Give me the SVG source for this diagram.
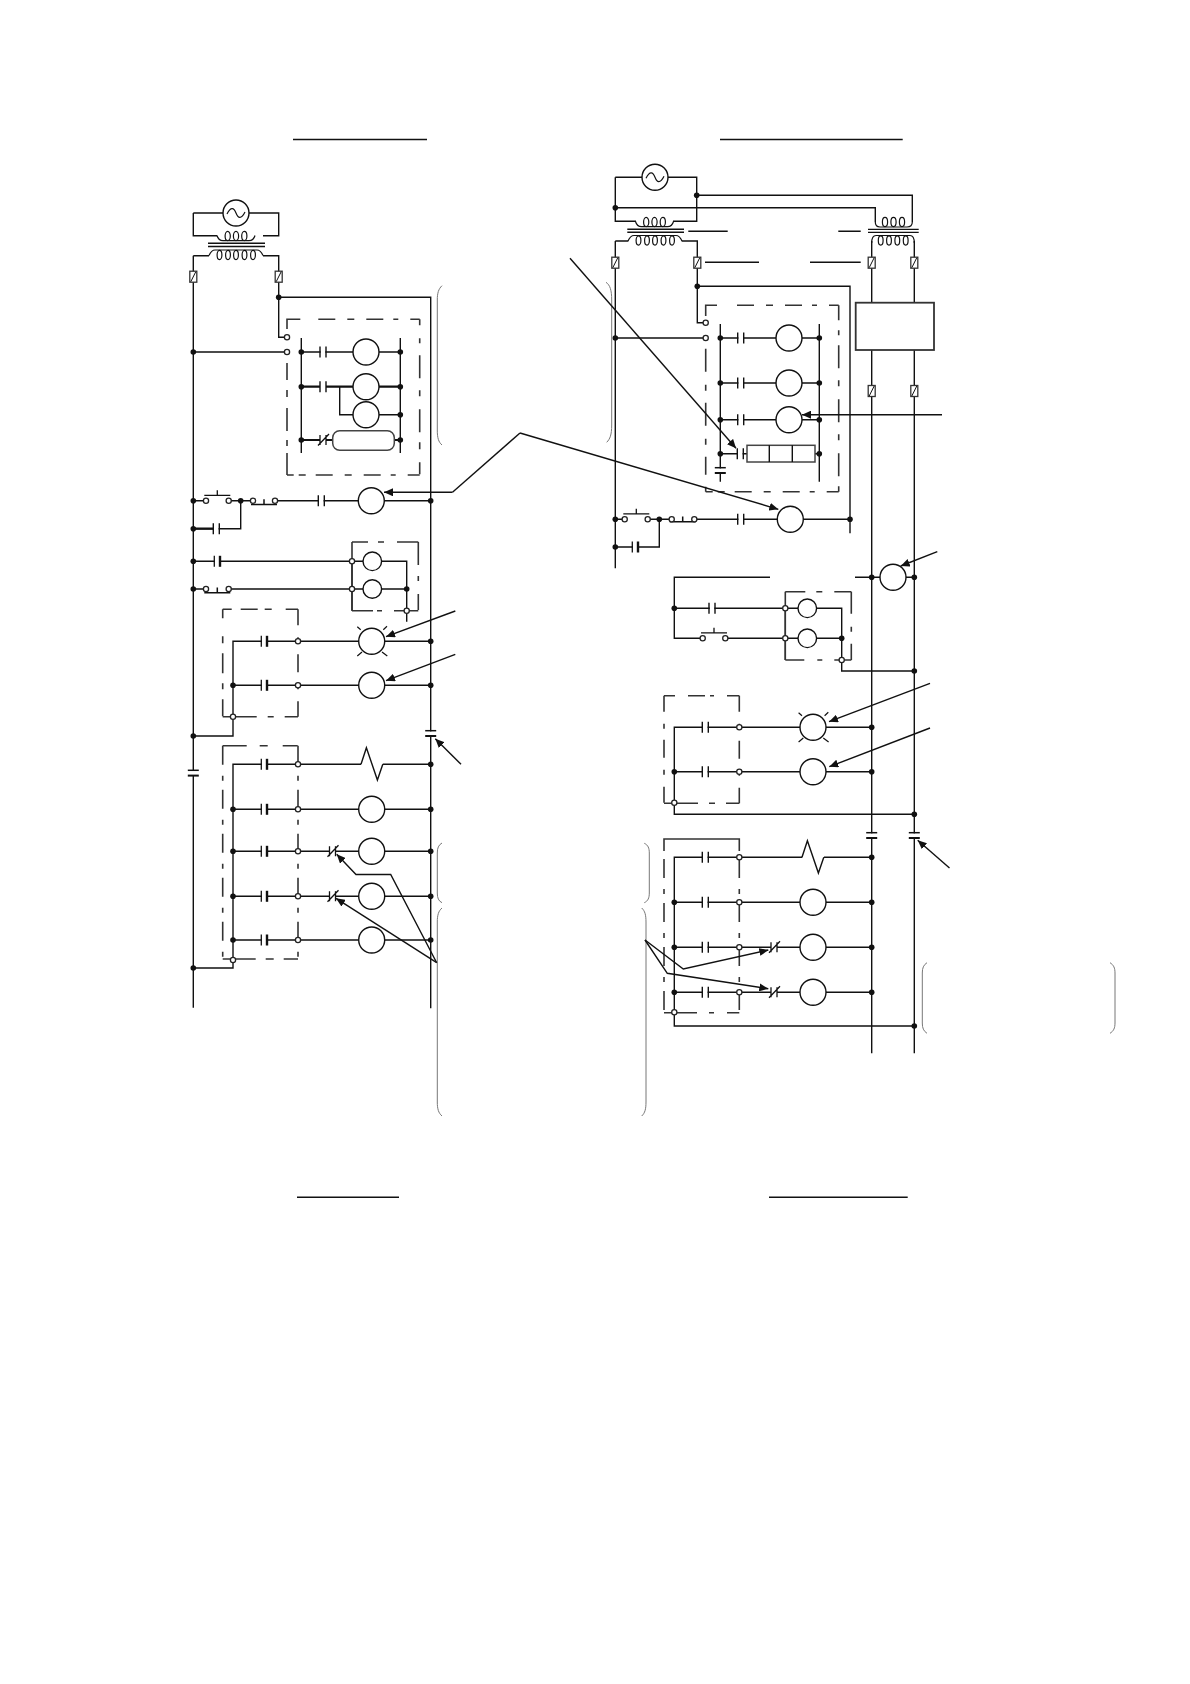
<svg xmlns="http://www.w3.org/2000/svg" width="1190" height="1684" viewBox="0 0 1190 1684">
<style>
.w,.w *{fill:none;stroke:#111;stroke-width:1.4}
.t{fill:none;stroke:#111;stroke-width:2.2}
.o{fill:#fff;stroke:#222;stroke-width:1.3}
.j{fill:#111;stroke:none}
.r{fill:#fff;stroke:#444;stroke-width:1.5}
.a{fill:none;stroke:#111;stroke-width:1.4;marker-end:url(#ah)}
.bx{fill:none;stroke:#333;stroke-width:1.6}
.bs{fill:none;stroke:#333;stroke-width:1.6;stroke-dasharray:19 11 5 9}
.br{fill:none;stroke:#777;stroke-width:1}
.c{fill:#fff;stroke:#111;stroke-width:1.4}
</style>
<defs>
<marker id="ah" markerUnits="userSpaceOnUse" markerWidth="10" markerHeight="8" refX="9" refY="4" orient="auto"><path d="M0,0 L9,4 L0,8 Z" fill="#111"/></marker>
<g id="ct"><rect x="0.7" y="-1.5" width="4.6" height="3" fill="#fff" stroke="none"/><path d="M0,-5.5V5.5M6,-5.5V5.5" fill="none" stroke="#111" stroke-width="1.4"/></g>
<g id="ct2"><rect x="0.7" y="-1.5" width="4.6" height="3" fill="#fff" stroke="none"/><path d="M0,-5.5V5.5" fill="none" stroke="#111" stroke-width="1.3"/><path d="M5.7,-5.5V5.5" fill="none" stroke="#111" stroke-width="2.4"/></g>
<g id="cv"><rect x="-6" y="0.7" width="12" height="4" fill="#fff" stroke="none"/><path d="M-5.5,0H5.5" fill="none" stroke="#111" stroke-width="1.5"/><path d="M-5.5,5.3H5.5" fill="none" stroke="#111" stroke-width="2"/></g>
<g id="nc"><rect x="-3" y="-2" width="6" height="4" fill="#fff" stroke="none"/><path d="M-3,-5V5M3,-5V5M-5,5.5L6,-6" fill="none" stroke="#111" stroke-width="1.3"/></g>
<g id="fu"><rect x="-3.5" y="-5.5" width="7" height="11" fill="#fff" stroke="#333" stroke-width="1.3"/><path d="M-2.5,5L2.5,-5" fill="none" stroke="#111"/></g>
<g id="cu" fill="none" stroke="#111" stroke-width="1.2"><ellipse cx="-8.3" cy="0" rx="2.6" ry="4.6"/><ellipse cx="0" cy="0" rx="2.6" ry="4.6"/><ellipse cx="8.3" cy="0" rx="2.6" ry="4.6"/><path d="M-19,-0.5C-18,3 -16,4.6 -13,4.6H13C16,4.6 18,3 19,-0.5"/></g>
<g id="cl" fill="none" stroke="#111" stroke-width="1.2"><ellipse cx="-16.5" cy="0" rx="2.4" ry="4.6"/><ellipse cx="-8" cy="0" rx="2.4" ry="4.6"/><ellipse cx="0" cy="0" rx="2.4" ry="4.6"/><ellipse cx="8.5" cy="0" rx="2.4" ry="4.6"/><ellipse cx="17" cy="0" rx="2.4" ry="4.6"/><path d="M-27,0.5C-25,-4 -23,-5 -21,-5H21C23,-5 25,-4 27,0.5"/></g>
<g id="la" fill="none" stroke="#111" stroke-width="1.2"><circle r="13" fill="#fff" stroke="#111" stroke-width="1.4"/><path d="M-14.4,-14.6L-11,-11.6M11.6,-11.6L15.3,-15M-14.4,14.7L-9.7,10.7M10.3,10.7L15.6,14.7"/></g>
<g id="zz"><path d="M-11,0L-5.6,-16.6L5.4,15.7L10.8,0" fill="none" stroke="#111" stroke-width="1.4"/></g>
<g id="sr"><circle r="13" class="c"/><path d="M-9,1C-5,-7 -2,-5 0,0C2,5 5,7 9,-1" fill="none" stroke="#111" stroke-width="1.2"/></g>
<path id="pbT" d="M-13,-5.4H13M0,-5.4V-10.5" fill="none" stroke="#111" stroke-width="1.3"/>
<path id="pbB" d="M-13,3.8H13M0,3.8V-1.5" fill="none" stroke="#111" stroke-width="1.5"/>
</defs>
<rect width="1190" height="1684" fill="#fff"/>

<g id="title-rules" class="w">
<path d="M293,139.5H427M720,139.5H902.7M297,1197.3H399M769,1197.3H907.7"/>
<path d="M688.3,231.3H727.7M838.3,231.3H860.7M705,262.3H759M810,262.3H860.7"/>
</g>

<g id="connectors-left" class="w">
<path d="M193.3,213H278.7V235.7H263M193.3,213V235.7H217M193.3,255.7V1007.7M209,255.7H193.3M263,255.7H278.7V337.3H287M278.7,297.3H430.7V1008.3"/>
<path d="M193.3,352H287M301.3,338V453M400.3,338V453M301.3,352H400.3M339.7,386.7V414.7H400.3"/>
<path d="M193.3,500.7H206M228.7,500.7H253M275,500.7H430.7M193.3,528.7H240.7V500.7"/>
<path d="M193.3,561.3H352M193.3,589H206M228.7,589H352M352,561.3V610.7M352,561.3H406.7V621.7M352,589H406.7"/>
<path d="M193.3,736H233V641.3H430.7M233,685.3H430.7"/>
<path d="M193.3,968H233V764.3H361M382.8,764.3H430.7M233,809.3H430.7M233,851.3H430.7M233,896.3H430.7M233,940H430.7"/>
</g>
<g id="connectors-left-heavy" class="t">
<path class="t" d="M301.3,386.7H320M326,386.7H353M379,386.7H400.3M301.3,440H320M326,440H333M394,440H400.3M193.3,528.7H213"/>
</g>

<g id="connectors-right" class="w">
<path d="M615.3,177.3H696.7V221.3H673M615.3,177.3V221.3H636M615.3,241V568.3M628.3,241H615.3M681.7,241H697.3V322.7H705.7M697.3,286.3H850V533.3"/>
<path d="M696.7,195.3H912.3V222M615.3,207.7H875.3V222"/>
<path d="M871.7,241V1053.3M914.3,241V1053.3"/>
<path d="M615.3,338H705.7M720.3,324V481.7M819.3,324V481.7M720.3,338H819.3M720.3,383H819.3M720.3,419.7H819.3M720.3,453.7H819.3"/>
<path d="M615.3,519.3H624.7M647.7,519.3H671.7M694.3,519.3H850M615.3,547H659.3V519.3"/>
<path d="M770,577.3H674.3V638.3H702.7M725.3,638.3H785.3M674.3,608.3H785.3M855,577.3H914.3M785.3,608.3V660M785.3,608.3H841.7V671H914.3M785.3,638.3H841.7"/>
<path d="M914.3,814.3H674.3V727.3H871.7M674.3,771.7H871.7"/>
<path d="M914.3,1026H674.3V857.3H802.2M824,857.3H871.7M674.3,902.3H871.7M674.3,947.3H871.7M674.3,992.3H871.7"/>
</g>

<g id="left-source"><use href="#sr" x="236" y="213"/></g>
<g id="left-transformer"><use href="#cu" x="236" y="236"/><path class="w" d="M208,243.3H265M208,246.5H265" fill="none"/><use href="#cl" x="236" y="255"/></g>
<g id="left-fuses"><use href="#fu" x="193.3" y="276.7"/><use href="#fu" x="278.7" y="276.7"/></g>
<g id="left-box-a">
<path class="bx" d="M287,329V319.3H419.7" stroke-dasharray="23 18 17 12 7 12 17 10 5 12 12 99"/>
<path class="bx" d="M419.7,319.3V475" stroke-dasharray="6 13 5 12 23 12 6 13 23 10 7 13 12 99"/>
<path class="bx" d="M419.7,475H287" stroke-dasharray="12 12 5 10 17 12 7 12 17 10 7 5 10 99"/>
<path class="bx" d="M287,475V358" stroke-dasharray="22 7 6 9 23 11 7 10 17 99"/>
</g>
<g id="left-box-b">
<path class="bx" d="M352,542H418.3" stroke-dasharray="16 10 6 13 23 99"/>
<path class="bx" d="M418.3,542V610.7" stroke-dasharray="23 11 5 13 16 99"/>
<path class="bx" d="M352,610.7H418.3" stroke-dasharray="21 4 5 12 25 99"/>
<path class="bx" d="M352,542V610.7"/>
</g>
<g id="left-box-c">
<path class="bx" d="M222.7,609.3H298" stroke-dasharray="9 9 17 7 7 14 13 99"/>
<path class="bx" d="M222.7,609.3V716.7" stroke-dasharray="9 18 7 10 20 10 6 10 17 99"/>
<path class="bx" d="M222.7,716.7H298" stroke-dasharray="34 11 6 11 14 99"/>
<path class="bx" d="M298,609.3V716.7" stroke-dasharray="16 12 5 12 18 12 5 12 16 99"/>
</g>
<g id="left-box-d">
<path class="bx" d="M222.7,745.7H298" stroke-dasharray="24 13 8 15 15 99"/>
<path class="bs" d="M222.7,745.7V959"/>
<path class="bx" d="M222.7,959H298" stroke-dasharray="33 10 8 10 15 99"/>
<path class="bs" d="M298,745.7V959"/>
</g>

<g id="left-row-1"><use href="#ct" x="320" y="352"/><circle class="c" cx="366" cy="352" r="13"/></g>
<g id="left-row-2"><use href="#ct" x="320" y="386.7"/><circle class="c" cx="366" cy="386.7" r="13"/></g>
<g id="left-row-3"><circle class="c" cx="366" cy="414.7" r="13"/></g>
<g id="left-row-4"><use href="#nc" x="323" y="440"/><rect class="r" x="332.7" y="430.7" width="61.6" height="19.6" rx="7"/></g>
<g id="left-row-5"><use href="#pbT" x="217.3" y="500.7"/><use href="#pbB" x="264" y="500.7"/><use href="#ct" x="318.3" y="500.7"/><circle class="c" cx="371.3" cy="500.7" r="13"/></g>
<g id="left-row-6"><use href="#ct" x="213.3" y="528.7"/></g>
<g id="left-row-7"><use href="#ct2" x="214.3" y="561.3"/><circle class="c" cx="372.3" cy="561.3" r="9.3"/></g>
<g id="left-row-8"><use href="#pbB" x="217.3" y="589"/><circle class="c" cx="372.3" cy="589" r="9.3"/></g>
<g id="left-lamp-1"><use href="#ct2" x="261.3" y="641.3"/><use href="#la" x="371.7" y="641.3"/></g>
<g id="left-lamp-2"><use href="#ct2" x="261.3" y="685.3"/><circle class="c" cx="371.7" cy="685.3" r="13"/></g>
<g id="left-contact-h"><use href="#cv" x="430.7" y="730.7"/></g>
<g id="left-contact-v"><use href="#cv" x="193.3" y="770.3"/></g>
<g id="left-row-9"><use href="#ct2" x="261.3" y="764.3"/><use href="#zz" x="372" y="764.3"/></g>
<g id="left-row-10"><use href="#ct2" x="261.3" y="809.3"/><circle class="c" cx="371.7" cy="809.3" r="13"/></g>
<g id="left-row-11"><use href="#ct2" x="261.3" y="851.3"/><use href="#nc" x="332.5" y="851.3"/><circle class="c" cx="371.7" cy="851.3" r="13"/></g>
<g id="left-row-12"><use href="#ct2" x="261.3" y="896.3"/><use href="#nc" x="332.5" y="896.3"/><circle class="c" cx="371.7" cy="896.3" r="13"/></g>
<g id="left-row-13"><use href="#ct2" x="261.3" y="940"/><circle class="c" cx="371.7" cy="940" r="13"/></g>

<g id="right-source"><use href="#sr" x="655" y="177.3"/></g>
<g id="right-transformer-1"><use href="#cu" x="654.5" y="222"/><path class="w" d="M627.3,229.3H684M627.3,232.3H684" fill="none"/><use href="#cl" x="655" y="240.5"/></g>
<g id="right-transformer-2" fill="none" stroke="#111" stroke-width="1.2"><path d="M875.3,222C875.3,226 878,227 880,227H907C910,227 912.3,226 912.3,222"/><ellipse cx="885" cy="222" rx="2.6" ry="4.6"/><ellipse cx="893.5" cy="222" rx="2.6" ry="4.6"/><ellipse cx="902" cy="222" rx="2.6" ry="4.6"/><path d="M868,229.3H918.7M868,232.3H918.7"/><rect x="868" y="234" width="52" height="7" fill="#fff" stroke="none"/><path d="M871.7,243C871.7,237 874,235.5 876,235.5H910C912.3,235.5 914.3,237 914.3,243"/><ellipse cx="880.7" cy="240.5" rx="2.4" ry="4.6"/><ellipse cx="889" cy="240.5" rx="2.4" ry="4.6"/><ellipse cx="897.3" cy="240.5" rx="2.4" ry="4.6"/><ellipse cx="905.7" cy="240.5" rx="2.4" ry="4.6"/></g>
<g id="right-fuses"><use href="#fu" x="615.3" y="262.7"/><use href="#fu" x="697.3" y="262.7"/><use href="#fu" x="871.7" y="262.7"/><use href="#fu" x="914.3" y="262.7"/><use href="#fu" x="871.7" y="391"/><use href="#fu" x="914.3" y="391"/></g>
<g id="right-block"><rect x="855.7" y="302.7" width="78.3" height="47.3" fill="#fff" stroke="#333" stroke-width="1.8"/></g>
<g id="right-box-a">
<path class="bx" d="M705.7,316V305.3H838.7" stroke-dasharray="22 20 17 12 7 12 17 10 5 12 12 99"/>
<path class="bx" d="M838.7,305.3V491.7" stroke-dasharray="15 10 5 10 23 12 6 13 23 12 6 13 23 10 16 99"/>
<path class="bx" d="M838.7,491.7H705.7" stroke-dasharray="12 12 5 10 17 12 7 12 17 10 7 5 10 99"/>
<path class="bx" d="M705.7,491.7V344" stroke-dasharray="5 12 18 12 6 13 23 12 6 13 23 99"/>
</g>
<g id="right-box-b">
<path class="bx" d="M785.3,591.7H851.3" stroke-dasharray="20 11 6 12 18 99"/>
<path class="bx" d="M851.3,591.7V660" stroke-dasharray="22 13 5 12 17 99"/>
<path class="bx" d="M785.3,660H851.3" stroke-dasharray="19 13 5 12 18 99"/>
<path class="bx" d="M785.3,591.7V660"/>
</g>
<g id="right-box-c">
<path class="bx" d="M664,695.7H739.3" stroke-dasharray="11 13 17 5 4 13 13 99"/>
<path class="bx" d="M664,695.7V803.3" stroke-dasharray="16 12 5 11 18 12 5 12 16 99"/>
<path class="bx" d="M664,803.3H739.3" stroke-dasharray="34 11 6 11 14 99"/>
<path class="bx" d="M739.3,695.7V803.3" stroke-dasharray="16 12 5 12 18 12 5 12 16 99"/>
</g>
<g id="right-box-d">
<path class="bx" d="M664,851V839H739.3V851"/>
<path class="bs" d="M664,859V1012.7"/>
<path class="bx" d="M664,1012.7H739.3" stroke-dasharray="33 12 5 13 13 99"/>
<path class="bs" d="M739.3,859V1012.7"/>
</g>

<g id="right-row-1"><use href="#ct" x="737.7" y="338"/><circle class="c" cx="789" cy="338" r="13"/></g>
<g id="right-row-2"><use href="#ct" x="737.7" y="383"/><circle class="c" cx="789" cy="383" r="13"/></g>
<g id="right-row-3"><use href="#ct" x="737.7" y="419.7"/><circle class="c" cx="789" cy="419.7" r="13"/></g>
<g id="right-row-4"><use href="#ct" x="737.3" y="453.7"/><rect class="r" x="747" y="445.3" width="68" height="16.7"/><path class="w" fill="none" d="M769.3,445.3V462M792.3,445.3V462"/></g>
<g id="right-contact-a" transform="translate(720.3,467.7)"><use href="#cv"/></g>
<g id="right-row-5"><use href="#pbT" x="636.3" y="519.3"/><use href="#pbB" x="682.7" y="518"/><use href="#ct" x="737.7" y="519.3"/><circle class="c" cx="790.3" cy="519.3" r="13"/></g>
<g id="right-row-6"><use href="#ct2" x="632.3" y="547"/></g>
<g id="right-coil-k"><circle class="c" cx="893" cy="577.3" r="13"/></g>
<g id="right-row-7"><use href="#ct" x="709" y="608.3"/><circle class="c" cx="807.3" cy="608.3" r="9.3"/></g>
<g id="right-row-8"><use href="#pbT" x="714" y="638.3"/><circle class="c" cx="807.3" cy="638.3" r="9.3"/></g>
<g id="right-lamp-1"><use href="#ct" x="702.3" y="727.3"/><use href="#la" x="813" y="727.3"/></g>
<g id="right-lamp-2"><use href="#ct" x="702.3" y="771.7"/><circle class="c" cx="813" cy="771.7" r="13"/></g>
<g id="right-contact-h1"><use href="#cv" x="871.7" y="832.7"/></g>
<g id="right-contact-h2"><use href="#cv" x="914.3" y="832.7"/></g>
<g id="right-row-9"><use href="#ct" x="702.3" y="857.3"/><use href="#zz" x="813" y="857.3"/></g>
<g id="right-row-10"><use href="#ct" x="702.3" y="902.3"/><circle class="c" cx="813" cy="902.3" r="13"/></g>
<g id="right-row-11"><use href="#ct" x="702.3" y="947.3"/><use href="#nc" x="774" y="947.3"/><circle class="c" cx="813" cy="947.3" r="13"/></g>
<g id="right-row-12"><use href="#ct" x="702.3" y="992.3"/><use href="#nc" x="774" y="992.3"/><circle class="c" cx="813" cy="992.3" r="13"/></g>

<g id="junctions">
<g class="j">
<circle cx="278.7" cy="297.3" r="2.8"/><circle cx="193.3" cy="352" r="2.8"/><circle cx="301.3" cy="352" r="2.8"/><circle cx="400.3" cy="352" r="2.8"/><circle cx="301.3" cy="386.7" r="2.8"/><circle cx="400.3" cy="386.7" r="2.8"/><circle cx="400.3" cy="414.7" r="2.8"/><circle cx="301.3" cy="440" r="2.8"/><circle cx="400.3" cy="440" r="2.8"/>
<circle cx="193.3" cy="500.7" r="2.8"/><circle cx="240.7" cy="500.7" r="2.8"/><circle cx="430.7" cy="500.7" r="2.8"/><circle cx="193.3" cy="528.7" r="2.8"/><circle cx="193.3" cy="561.3" r="2.8"/><circle cx="193.3" cy="589" r="2.8"/><circle cx="406.7" cy="589" r="2.8"/>
<circle cx="430.7" cy="641.3" r="2.8"/><circle cx="233" cy="685.3" r="2.8"/><circle cx="430.7" cy="685.3" r="2.8"/><circle cx="193.3" cy="736" r="2.8"/><circle cx="430.7" cy="764.3" r="2.8"/>
<circle cx="233" cy="809.3" r="2.8"/><circle cx="430.7" cy="809.3" r="2.8"/><circle cx="233" cy="851.3" r="2.8"/><circle cx="430.7" cy="851.3" r="2.8"/><circle cx="233" cy="896.3" r="2.8"/><circle cx="430.7" cy="896.3" r="2.8"/><circle cx="233" cy="940" r="2.8"/><circle cx="430.7" cy="940" r="2.8"/><circle cx="193.3" cy="968" r="2.8"/>
<circle cx="696.7" cy="195.3" r="2.8"/><circle cx="615.3" cy="207.7" r="2.8"/><circle cx="697.3" cy="286.3" r="2.8"/><circle cx="615.3" cy="338" r="2.8"/><circle cx="720.3" cy="338" r="2.8"/><circle cx="819.3" cy="338" r="2.8"/><circle cx="720.3" cy="383" r="2.8"/><circle cx="819.3" cy="383" r="2.8"/><circle cx="720.3" cy="419.7" r="2.8"/><circle cx="819.3" cy="419.7" r="2.8"/><circle cx="720.3" cy="453.7" r="2.8"/><circle cx="819.3" cy="453.7" r="2.8"/>
<circle cx="615.3" cy="519.3" r="2.8"/><circle cx="659.3" cy="519.3" r="2.8"/><circle cx="850" cy="519.3" r="2.8"/><circle cx="615.3" cy="547" r="2.8"/><circle cx="871.7" cy="577.3" r="2.8"/><circle cx="914.3" cy="577.3" r="2.8"/><circle cx="674.3" cy="608.3" r="2.8"/><circle cx="841.7" cy="638.3" r="2.8"/><circle cx="914.3" cy="671" r="2.8"/>
<circle cx="871.7" cy="727.3" r="2.8"/><circle cx="674.3" cy="771.7" r="2.8"/><circle cx="871.7" cy="771.7" r="2.8"/><circle cx="914.3" cy="814.3" r="2.8"/><circle cx="871.7" cy="857.3" r="2.8"/>
<circle cx="674.3" cy="902.3" r="2.8"/><circle cx="871.7" cy="902.3" r="2.8"/><circle cx="674.3" cy="947.3" r="2.8"/><circle cx="871.7" cy="947.3" r="2.8"/><circle cx="674.3" cy="992.3" r="2.8"/><circle cx="871.7" cy="992.3" r="2.8"/><circle cx="914.3" cy="1026" r="2.8"/>
</g>
<g class="o">
<circle cx="287" cy="337.3" r="2.6"/><circle cx="287" cy="352" r="2.6"/><circle cx="206" cy="500.7" r="2.6"/><circle cx="228.7" cy="500.7" r="2.6"/><circle cx="253" cy="500.7" r="2.6"/><circle cx="275" cy="500.7" r="2.6"/><circle cx="352" cy="561.3" r="2.6"/><circle cx="206" cy="589" r="2.6"/><circle cx="228.7" cy="589" r="2.6"/><circle cx="352" cy="589" r="2.6"/><circle cx="406.7" cy="610.7" r="2.6"/>
<circle cx="298" cy="641.3" r="2.6"/><circle cx="298" cy="685.3" r="2.6"/><circle cx="233" cy="716.7" r="2.6"/><circle cx="298" cy="764.3" r="2.6"/><circle cx="298" cy="809.3" r="2.6"/><circle cx="298" cy="851.3" r="2.6"/><circle cx="298" cy="896.3" r="2.6"/><circle cx="298" cy="940" r="2.6"/><circle cx="233" cy="960" r="2.6"/>
<circle cx="705.7" cy="322.7" r="2.6"/><circle cx="705.7" cy="338" r="2.6"/><circle cx="624.7" cy="519.3" r="2.6"/><circle cx="647.7" cy="519.3" r="2.6"/><circle cx="671.7" cy="519.3" r="2.6"/><circle cx="694.3" cy="519.3" r="2.6"/><circle cx="785.3" cy="608.3" r="2.6"/><circle cx="702.7" cy="638.3" r="2.6"/><circle cx="725.3" cy="638.3" r="2.6"/><circle cx="785.3" cy="638.3" r="2.6"/><circle cx="841.7" cy="660" r="2.6"/>
<circle cx="739.3" cy="727.3" r="2.6"/><circle cx="739.3" cy="771.7" r="2.6"/><circle cx="674.3" cy="802.7" r="2.6"/><circle cx="739.3" cy="857.3" r="2.6"/><circle cx="739.3" cy="902.3" r="2.6"/><circle cx="739.3" cy="947.3" r="2.6"/><circle cx="739.3" cy="992.3" r="2.6"/><circle cx="674.3" cy="1012.3" r="2.6"/>
</g>
</g>

<g id="braces">
<path class="br" d="M442,285.7C438.5,289 437.3,293 437.3,300V430C437.3,438 438.5,442 442,445"/>
<path class="br" d="M442,843C438.5,845 437.3,848 437.3,853V893C437.3,898 438.5,901 442,902.7"/>
<path class="br" d="M442,908C438.5,911 437.3,915 437.3,922V1102C437.3,1109 438.5,1113 442,1116"/>
<path class="br" d="M606,282.3C610,285 611.7,290 611.7,300V425C611.7,435 610,439 606.7,442.3"/>
<path class="br" d="M644.3,843.3C648,845 649.3,848 649.3,853V893C649.3,898 648,901 644.3,902.7"/>
<path class="br" d="M641.7,908C645,911 646,915 646,922V1102C646,1109 645,1113 641.7,1116"/>
<path class="br" d="M927,962.7C923.5,965 922.3,968 922.3,973V1023C922.3,1028 923.5,1031 927,1033.3"/>
<path class="br" d="M1110,962.7C1113.7,965 1115,968 1115,973V1023C1115,1028 1113.7,1031 1110,1033.3"/>
</g>

<g id="leaders">
<path class="a" d="M452.5,492.3H384"/>
<path d="M452.5,492.3L520,433" fill="none" stroke="#111" stroke-width="1.4"/>
<path class="a" d="M520,433L778.3,509.3"/>
<path class="a" d="M455.3,611L386,636.7"/>
<path class="a" d="M455.3,654.3L386,680.7"/>
<path class="a" d="M461,764.3L435.3,738.7"/>
<path class="a" d="M436.7,962.7L390.7,874.5H356L336.7,854.3"/>
<path class="a" d="M436.7,962.7L336,898.3"/>
<path class="a" d="M570,258.3L736,448.3"/>
<path class="a" d="M942,414.7H802"/>
<path class="a" d="M937.3,551.7L900.7,566"/>
<path class="a" d="M930,683.3L829,721.7"/>
<path class="a" d="M930,728L829.3,766.7"/>
<path class="a" d="M949.5,868L917.7,840.3"/>
<path class="a" d="M645,940L683.3,969L768.3,950"/>
<path class="a" d="M645,940L667.3,973.3L768.3,988.7"/>
</g>
</svg>
